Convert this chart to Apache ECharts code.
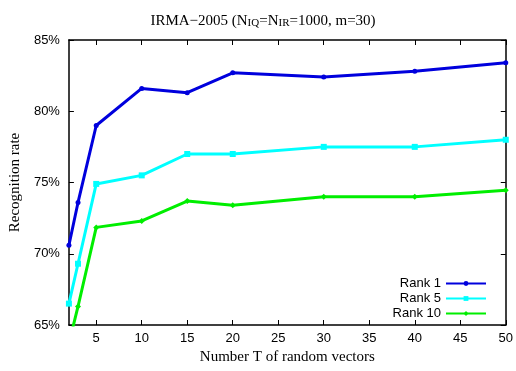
<!DOCTYPE html>
<html>
<head>
<meta charset="utf-8">
<script src="https://cdn.jsdelivr.net/npm/echarts@6/dist/echarts.min.js"></script>
<style>
  html, body { margin: 0; padding: 0; background: #fff; }
  #chart { width: 516px; height: 371px; }
</style>
</head>
<body>
<div id="chart"></div>
<script>
const xValues = [2, 3, 5, 10, 15, 20, 30, 40, 50];
const rank1 = [70.6, 73.6, 79.0, 81.6, 81.3, 82.7, 82.4, 82.8, 83.4];
const rank5 = [66.5, 69.3, 74.9, 75.5, 77.0, 77.0, 77.5, 77.5, 78.0];
const rank10 = [63.7, 66.3, 71.85, 72.3, 73.7, 73.4, 74.0, 74.0, 74.45];
const seriesNames = ["Rank 1", "Rank 5", "Rank 10"];
const xTicks = [5, 10, 15, 20, 25, 30, 35, 40, 45, 50];
const yTicks = [65, 70, 75, 80, 85];

const pairs = (ys) => xValues.map((x, i) => [x, ys[i]]);

const chart = echarts.init(document.getElementById("chart"));

const serif = "Liberation Serif";
const sans = "Liberation Sans";

const boxAxisX = {
  type: "value",
  min: 2,
  max: 50,
  axisLine: { show: true, onZero: false, lineStyle: { color: "#000", width: 1.5 } },
  axisTick: { show: true, inside: true, length: 5, customValues: xTicks, lineStyle: { color: "#000" } },
  splitLine: { show: false },
};
const boxAxisY = {
  type: "value",
  min: 65,
  max: 85,
  interval: 5,
  axisLine: { show: true, onZero: false, lineStyle: { color: "#000", width: 1.5 } },
  axisTick: { show: true, inside: true, length: 5, customValues: yTicks, lineStyle: { color: "#000" } },
  splitLine: { show: false },
};

function lineSeries(name, data, color, symbol, size) {
  return {
    name: name,
    type: "line",
    data: pairs(data),
    symbol: symbol,
    symbolSize: size,
    showSymbol: true,
    lineStyle: { color: color, width: 3 },
    itemStyle: { color: color },
    clip: true,
  };
}

chart.setOption({
  animation: false,
  backgroundColor: "#fff",
  title: {
    text: "{a|IRMA\u22122005 (N}{s|IQ}{a|=N}{s|IR}{a|=1000, m=30)}",
    left: 258,
    textAlign: "center",
    top: 4,
    textStyle: {
      fontWeight: "normal",
      rich: {
        a: { fontFamily: serif, fontSize: 15, fontWeight: "normal", color: "#000", lineHeight: 20, verticalAlign: "bottom" },
        s: { fontFamily: serif, fontSize: 11, fontWeight: "normal", color: "#000", lineHeight: 20, verticalAlign: "bottom", padding: [9, 0, 0, 0] },
      },
    },
  },
  grid: { left: 67, right: 10, top: 40, bottom: 46 },
  legend: {
    orient: "vertical",
    right: 24,
    bottom: 45,
    align: "right",
    itemWidth: 40,
    itemHeight: 6,
    itemGap: 0,
    textStyle: { fontFamily: sans, fontSize: 13, color: "#000", lineHeight: 15 },
    data: seriesNames,
  },
  xAxis: [
    Object.assign({}, boxAxisX, {
      position: "bottom",
      name: "Number T of random vectors",
      nameLocation: "middle",
      nameGap: 22,
      nameTextStyle: { fontFamily: serif, fontSize: 15, color: "#000" },
      axisLabel: {
        fontFamily: sans,
        fontSize: 13,
        color: "#000",
        margin: 7,
        customValues: xTicks,
      },
    }),
    Object.assign({}, boxAxisX, { position: "top", axisLabel: { show: false } }),
  ],
  yAxis: [
    Object.assign({}, boxAxisY, {
      position: "left",
      name: "Recognition rate",
      nameLocation: "middle",
      nameGap: 44,
      nameTextStyle: { fontFamily: serif, fontSize: 15, color: "#000" },
      axisLabel: { fontFamily: sans, fontSize: 13, color: "#000", margin: 9, formatter: "{value}%" },
    }),
    Object.assign({}, boxAxisY, { position: "right", axisLabel: { show: false } }),
  ],
  series: [
    lineSeries(seriesNames[0], rank1, "#0000dd", "circle", 5),
    lineSeries(seriesNames[1], rank5, "#00ffff", "rect", 6),
    lineSeries(seriesNames[2], rank10, "#00ee00", "diamond", 6),
  ],
});
</script>
</body>
</html>
